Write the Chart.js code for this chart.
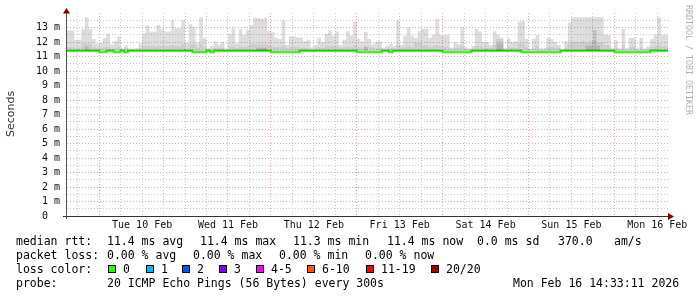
<!DOCTYPE html>
<html><head><meta charset="utf-8">
<script src="https://cdn.jsdelivr.net/npm/chart.js@4.4.1/dist/chart.umd.min.js"></script>
<style>html,body{margin:0;padding:0;background:#fff;overflow:hidden}#wrap{width:697px;height:297px}</style>
</head><body><div id="wrap"><canvas id="c" width="697" height="297"></canvas></div>
<script>
// hours relative to Tue 10 Feb 00:00; one value per hour
const hourStart = -9;
const hourEnd = 159;
const dayLabels = ['Tue 10 Feb','Wed 11 Feb','Thu 12 Feb','Fri 13 Feb','Sat 14 Feb','Sun 15 Feb','Mon 16 Feb'];
const yMax = 14;

// max ping (ms) per hour (outer smoke)
const smokeMax = [
 13.68,12.8,12.8,12.15,12.15,12.9,13.7,12.9,12.2,11.9,11.95,12.28,
 12.57,11.83,12.05,12.4,11.6,11.77,11.55,11.55,11.6,11.9,12.6,13.17,
 12.7,12.7,13.17,12.88,12.72,12.72,13.5,12.95,12.95,13.5,11.95,13.23,
 13.05,11.95,13.7,12.28,11.6,11.72,12.05,11.83,12.0,11.55,12.55,12.95,
 11.9,12.88,12.5,12.85,13.15,13.68,13.65,13.6,13.65,12.74,12.67,12.3,
 12.2,13.5,11.8,12.4,12.4,12.33,12.3,12.05,12.15,11.64,11.8,12.3,
 12.0,12.55,12.8,12.45,12.75,11.8,12.15,12.75,12.45,13.4,12.2,12.05,
 12.7,12.2,11.85,12.0,12.05,11.6,11.75,11.9,11.75,13.5,11.8,12.45,
 13.0,12.45,12.3,12.75,12.9,12.9,12.3,12.5,13.6,12.5,12.5,12.5,
 11.6,12.0,11.85,13.0,11.65,11.55,11.75,12.9,12.7,12.0,12.0,11.8,
 12.75,12.5,12.3,11.6,12.25,12.0,12.05,13.4,13.45,12.2,11.55,12.2,
 12.5,11.55,11.6,12.3,12.2,12.0,11.8,11.5,12.05,13.35,13.7,13.7,
 13.7,13.7,13.7,13.7,13.7,13.7,13.7,12.5,12.5,11.6,12.1,11.55,
 12.9,11.55,12.3,12.3,11.55,12.3,11.55,11.7,12.2,12.5,13.7,12.5
];
// upper-quartile ping per hour (middle smoke)
const smokeMid = [
 11.8,11.65,11.65,11.6,11.6,11.9,11.9,11.9,11.65,11.6,11.6,11.65,
 11.65,11.6,11.6,11.65,11.5,11.6,11.5,11.5,11.5,11.6,11.7,11.75,
 11.7,11.7,11.75,11.7,11.7,11.7,11.8,11.7,11.7,11.85,11.6,11.85,
 11.85,11.6,11.85,11.65,11.5,11.55,11.6,11.6,11.6,11.5,11.7,11.7,
 11.6,11.7,11.65,11.7,11.85,11.85,11.85,11.85,11.85,11.8,11.7,11.65,
 11.65,11.75,11.6,11.65,11.65,11.65,11.6,11.6,11.6,11.5,11.6,11.65,
 11.6,11.7,11.75,11.7,11.7,11.6,11.65,11.7,11.65,11.8,11.65,11.6,
 11.77,11.65,11.6,11.6,11.6,11.5,11.55,11.6,11.55,11.8,11.6,11.65,
 11.75,11.65,11.95,11.95,11.8,11.8,11.65,11.7,11.8,11.7,11.65,11.65,
 11.5,11.6,11.6,11.75,11.55,11.5,11.55,11.7,11.7,11.6,11.6,11.6,
 11.8,12.2,12.2,11.5,11.65,11.6,11.6,11.9,11.9,11.65,11.5,11.6,
 11.7,11.5,11.5,11.65,11.65,11.6,11.6,11.5,11.6,11.9,12.0,12.0,
 12.0,12.05,11.95,12.05,12.1,12.0,12.0,11.8,11.8,11.5,11.6,11.5,
 11.8,11.5,11.65,11.65,11.5,11.65,11.5,11.55,11.65,11.7,11.9,11.7
];
// inner dense smoke per hour
const smokeInner = [
 11.35,11.35,11.35,11.35,11.35,11.35,11.7,11.35,11.35,11.35,11.35,11.35,
 11.35,11.35,11.35,11.35,11.35,11.35,11.35,11.35,11.35,11.35,11.35,11.35,
 11.35,11.35,11.35,11.35,11.35,11.35,11.35,11.35,11.35,11.35,11.35,11.35,
 11.35,11.35,11.35,11.35,11.35,11.35,11.35,11.35,11.35,11.35,11.35,11.35,
 11.35,11.35,11.35,11.35,11.35,11.35,11.6,11.6,11.6,11.35,11.35,11.35,
 11.35,11.35,11.35,11.35,11.35,11.35,11.35,11.35,11.35,11.35,11.35,11.35,
 11.35,11.35,11.35,11.35,11.35,11.35,11.35,11.35,11.35,11.35,11.35,11.35,
 11.65,11.35,11.35,11.35,11.35,11.35,11.35,11.35,11.35,11.35,11.35,11.35,
 11.35,11.35,11.35,11.35,11.35,11.35,11.35,11.35,11.35,11.35,11.35,11.35,
 11.35,11.35,11.35,11.35,11.35,11.35,11.35,11.35,11.35,11.35,11.35,11.35,
 11.35,11.9,11.9,11.35,11.35,11.35,11.35,11.35,11.35,11.35,11.35,11.35,
 11.35,11.35,11.35,11.35,11.35,11.35,11.35,11.35,11.35,11.35,11.35,11.35,
 11.35,11.35,11.75,11.75,12.85,11.75,11.35,11.35,11.35,11.35,11.35,11.35,
 11.35,11.35,11.35,11.35,11.35,11.35,11.35,11.35,11.35,11.35,11.35,11.35
];
// median rtt per hour
const medianRtt = [
 11.4,11.4,11.4,11.4,11.4,11.4,11.4,11.4,11.4,11.4,11.3,11.3,
 11.4,11.4,11.3,11.3,11.4,11.3,11.4,11.4,11.4,11.4,11.4,11.4,
 11.4,11.4,11.4,11.4,11.4,11.4,11.4,11.4,11.4,11.4,11.4,11.4,
 11.3,11.3,11.3,11.3,11.4,11.3,11.4,11.4,11.4,11.4,11.4,11.4,
 11.4,11.4,11.4,11.4,11.4,11.4,11.4,11.4,11.4,11.4,11.3,11.3,
 11.3,11.3,11.3,11.3,11.3,11.3,11.4,11.4,11.4,11.4,11.4,11.4,
 11.4,11.4,11.4,11.4,11.4,11.4,11.4,11.4,11.4,11.4,11.3,11.3,
 11.3,11.3,11.3,11.3,11.3,11.4,11.4,11.3,11.4,11.4,11.4,11.4,
 11.4,11.4,11.4,11.4,11.4,11.4,11.4,11.4,11.4,11.4,11.3,11.3,
 11.3,11.3,11.3,11.3,11.3,11.3,11.4,11.4,11.4,11.4,11.4,11.4,
 11.4,11.4,11.4,11.4,11.4,11.4,11.4,11.4,11.3,11.3,11.3,11.3,
 11.3,11.3,11.3,11.3,11.3,11.3,11.3,11.4,11.4,11.4,11.4,11.4,
 11.4,11.4,11.4,11.4,11.4,11.4,11.4,11.4,11.4,11.4,11.3,11.3,
 11.3,11.3,11.3,11.3,11.3,11.3,11.3,11.3,11.4,11.4,11.4,11.4
];
const smokeBase = 11.38;

// legend texts
const legendStats = [
 ['median rtt:','11.4 ms avg','11.4 ms max','11.3 ms min','11.4 ms now','0.0 ms sd','370.0','am/s'],
 ['packet loss:','0.00 % avg','0.00 % max','0.00 % min','0.00 % now']
];
const lossLabels = ['0','1','2','3','4-5','6-10','11-19','20/20'];
const lossColors = ['#26ff00','#00b8ff','#0059ff','#7e00ff','#ff00ff','#ff5500','#ff0000','#a00000'];
const probeText = ['probe:','20 ICMP Echo Pings (56 Bytes) every 300s','Mon Feb 16 14:33:11 2026'];

// layout positions (pixels)
const statX = [[16,107,200,293,387,477,558,614],[16,107,193,279,365]];
const lossBoxX = [108,146,182,219,256,307,366,431];
const probeX = [16,107,513];

function toPts(arr){
  const p = arr.map((v,i)=>({x:hourStart+i,y:v}));
  p.push({x:hourStart+arr.length,y:arr[arr.length-1]});
  return p;
}
const MONO = "'DejaVu Sans Mono', monospace";
const RED = '#e4aaaa', GRAY = '#c9c9c9';

const decor = {
  id:'decor',
  afterDraw(chart){
    const ctx = chart.ctx, a = chart.chartArea;
    ctx.save();
    // axes
    ctx.strokeStyle = '#555'; ctx.lineWidth = 1;
    ctx.beginPath(); ctx.moveTo(66.5, 219); ctx.lineTo(66.5, 12); ctx.stroke();
    ctx.strokeStyle = '#333';
    ctx.beginPath(); ctx.moveTo(63, a.bottom+0.5); ctx.lineTo(669, a.bottom+0.5); ctx.stroke();
    // arrows
    ctx.fillStyle = '#800000';
    ctx.beginPath(); ctx.moveTo(66.5, 8); ctx.lineTo(63, 13.5); ctx.lineTo(70, 13.5); ctx.closePath(); ctx.fill();
    ctx.beginPath(); ctx.moveTo(674, a.bottom+0.5); ctx.lineTo(668, a.bottom-3); ctx.lineTo(668, a.bottom+4); ctx.closePath(); ctx.fill();
    // y title
    ctx.save();
    ctx.translate(11, 114); ctx.rotate(-Math.PI/2);
    ctx.font = "11px 'DejaVu Sans'"; ctx.fillStyle = '#333';
    ctx.textAlign = 'center'; ctx.textBaseline = 'middle';
    ctx.fillText('Seconds', 0, 0);
    ctx.restore();
    // watermark
    ctx.save();
    ctx.translate(688, 60); ctx.rotate(Math.PI/2);
    ctx.font = "8.3px " + MONO; ctx.fillStyle = '#b0b0b0';
    ctx.textAlign = 'center'; ctx.textBaseline = 'middle';
    ctx.fillText('RRDTOOL / TOBI OETIKER', 0, 0);
    ctx.restore();
    // legend
    ctx.font = "11.5px " + MONO; ctx.fillStyle = '#000';
    ctx.textAlign = 'left'; ctx.textBaseline = 'alphabetic';
    const base = [245, 259, 273, 287];
    legendStats.forEach((row, r)=>row.forEach((s, i)=>ctx.fillText(s, statX[r][i], base[r])));
    ctx.fillText('loss color:', 16, base[2]);
    lossLabels.forEach((s, i)=>{
      const bx = lossBoxX[i];
      ctx.fillStyle = lossColors[i];
      ctx.fillRect(bx, 265, 8, 8);
      ctx.strokeStyle = '#000'; ctx.lineWidth = 1;
      ctx.strokeRect(bx+0.5, 265.5, 7, 7);
      ctx.fillStyle = '#000';
      ctx.fillText(s, bx+15, base[2]);
    });
    probeText.forEach((s, i)=>ctx.fillText(s, probeX[i], base[3]));
    ctx.restore();
  }
};

const smokeDs = (arr, col) => ({
  data: toPts(arr), stepped:'after', fill:{value:smokeBase},
  backgroundColor: col, borderColor:'rgba(0,0,0,0)', borderWidth:0, pointRadius:0
});

new Chart(document.getElementById('c'), {
  type:'line',
  data:{datasets:[
    smokeDs(smokeMax, 'rgba(0,0,0,0.135)'),
    smokeDs(smokeMid, 'rgba(0,0,0,0.075)'),
    smokeDs(smokeInner, 'rgba(0,0,0,0.13)'),
    {data: toPts(medianRtt), stepped:'after', fill:false, borderColor:'#26ff00', borderWidth:2, pointRadius:0}
  ]},
  options:{
    responsive:false, animation:false, events:[],
    layout:{padding:{left:0,right:29,top:11,bottom:61}},
    plugins:{legend:{display:false}, tooltip:{enabled:false}},
    scales:{
      x:{
        type:'linear', min:hourStart, max:hourEnd,
        afterBuildTicks(s){ const t=[]; for(let h=-6; h<=156; h+=6) t.push({value:h}); s.ticks=t; },
        afterFit(s){ s.height = 20; },
        grid:{drawTicks:false, lineWidth:1, color:c=> (c.tick && ((c.tick.value%24)+24)%24===0) ? RED : GRAY},
        border:{display:false, dash:[1,2]},
        ticks:{autoSkip:false, maxRotation:0, padding:3, color:'#111',
          font:{family:MONO, size:10},
          callback:v=> (((v%24)+24)%24===12) ? dayLabels[(v-12)/24] : ''}
      },
      y:{
        type:'linear', min:0, max:yMax,
        afterBuildTicks(s){ const t=[]; for(let v=0; v<=13.5; v+=0.5) t.push({value:v}); s.ticks=t; },
        afterFit(s){ s.width = 67; },
        grid:{drawTicks:false, lineWidth:1, color:c=> (c.tick && Number.isInteger(c.tick.value)) ? RED : GRAY},
        border:{display:false, dash:[1,2]},
        ticks:{autoSkip:false, padding:7, color:'#111',
          font:{family:MONO, size:10},
          callback:v=> Number.isInteger(v) ? (v===0 ? '0  ' : v+' m') : ''}
      }
    }
  },
  plugins:[decor]
});
</script></body></html>
